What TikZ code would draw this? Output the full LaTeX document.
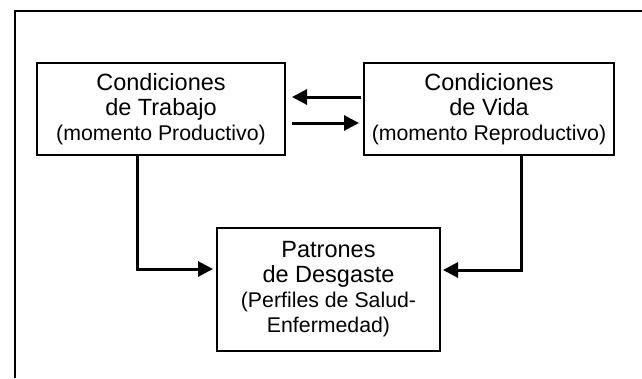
\documentclass[tikz,border=0pt]{standalone}
\usepackage{fontspec}
\setmainfont{Liberation Sans}
\usetikzlibrary{arrows.meta}
\newcommand{\ttl}{\fontsize{23.5}{25}\selectfont}
\newcommand{\prn}{\fontsize{21.3}{25}\selectfont}
\tikzset{
  boxnode/.style={draw=black, line width=2.5pt, outer sep=0pt, inner sep=0pt, align=center, fill=white, font=\ttl},
  arr/.style={line width=3pt, -{Triangle[length=15pt,width=15pt]}},
  frameline/.style={line width=2pt},
}
\begin{document}
\begin{tikzpicture}[x=1pt,y=-1pt]
\useasboundingbox (0,0) rectangle (642,378);
\fill[white] (0,0) rectangle (642,378);
\coordinate (fa) at (15,378);
\coordinate (fb) at (15,11);
\coordinate (fc) at (642,11);
\draw[frameline] (fa) -- (fb) -- (fc);
\node[boxnode, minimum width=248pt, minimum height=92pt] (L) at (161,109)
  {Condiciones\\de Trabajo\\\prn (momento Productivo)};
\node[boxnode, minimum width=250pt, minimum height=92pt] (R) at (489,109)
  {Condiciones\\de Vida\\\prn (momento Reproductivo)};
\node[boxnode, minimum width=223pt, minimum height=123pt] (B) at (328.5,289.5)
  {Patrones\\de Desgaste\\\prn (Perfiles de Salud-\\\prn Enfermedad)};
\draw[arr, shorten >=7pt, shorten <=3pt] ([yshift=12pt]R.west) -- ([yshift=12pt]L.east);
\draw[arr, shorten >=5pt, shorten <=7pt] ([yshift=-14pt]L.east) -- ([yshift=-14pt]R.west);
\draw[arr, shorten >=4pt] ([xshift=-24pt]L.south) |- ([yshift=20.5pt]B.west);
\draw[arr, shorten >=3pt] ([xshift=32pt]R.south) |- ([yshift=19.5pt]B.east);
\end{tikzpicture}
\end{document}
